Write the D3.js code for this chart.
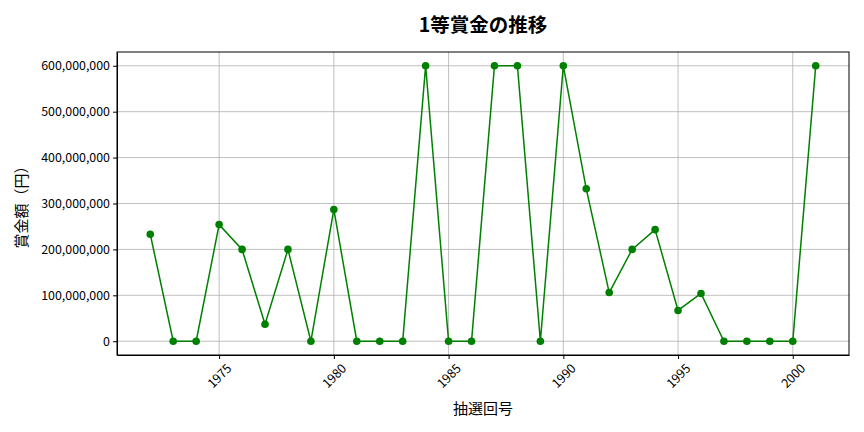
<!DOCTYPE html>
<html lang="ja">
<head>
<meta charset="UTF-8">
<title>1等賞金の推移</title>
<script src="https://d3js.org/d3.v7.min.js"></script>
<style>
  body { margin: 0; background: #fff; font-family: 'Noto Sans CJK JP', sans-serif; }
  .grid line { stroke: #b0b0b0; stroke-width: 0.8; }
  .axis text { font-size: 12.4px; fill: #000; font-family: 'Noto Sans CJK JP', sans-serif; }
  .axis path, .axis line { stroke: #000; }
</style>
</head>
<body>
<div id="chart"></div>
<script>
// data
const years = [1972, 1973, 1974, 1975, 1976, 1977, 1978, 1979, 1980, 1981,
  1982, 1983, 1984, 1985, 1986, 1987, 1988, 1989, 1990, 1991,
  1992, 1993, 1994, 1995, 1996, 1997, 1998, 1999, 2000, 2001];
const prizes = [233000000, 0, 0, 254000000, 200000000, 37000000, 200000000, 0, 287000000, 0,
  0, 0, 600000000, 0, 0, 600000000, 600000000, 0, 600000000, 332000000,
  106000000, 200000000, 243000000, 67000000, 104000000, 0, 0, 0, 0, 600000000];
const xTicks = [1975, 1980, 1985, 1990, 1995, 2000];
const yTicks = [0, 100000000, 200000000, 300000000, 400000000, 500000000, 600000000];

const W = 864, H = 432;
const margin = { top: 52, right: 15, bottom: 77, left: 117 };
const w = W - margin.left - margin.right;
const h = H - margin.top - margin.bottom;

const svg = d3.select("#chart").append("svg")
  .attr("width", W).attr("height", H);

const g = svg.append("g")
  .attr("transform", `translate(${margin.left},${margin.top})`);

const x = d3.scaleLinear().domain([1970.55, 2002.45]).range([0, w]);
const y = d3.scaleLinear().domain([-30000000, 630000000]).range([h, 0]);

// grid
g.append("g").attr("class", "grid")
  .selectAll("line.v").data(xTicks).join("line")
  .attr("x1", d => x(d)).attr("x2", d => x(d))
  .attr("y1", 0).attr("y2", h);
g.append("g").attr("class", "grid")
  .selectAll("line.h").data(yTicks).join("line")
  .attr("x1", 0).attr("x2", w)
  .attr("y1", d => y(d)).attr("y2", d => y(d));

// axes
const xAxis = g.append("g").attr("class", "axis")
  .attr("transform", `translate(0,${h})`)
  .call(d3.axisBottom(x).tickValues(xTicks).tickFormat(d3.format("d")).tickSize(4).tickSizeOuter(0));
xAxis.selectAll("text")
  .attr("text-anchor", "middle")
  .attr("transform", "translate(0,21) rotate(-45)")
  .attr("y", 0).attr("dy", "0.35em");

g.append("g").attr("class", "axis")
  .call(d3.axisLeft(y).tickValues(yTicks).tickFormat(d3.format(",")).tickSize(4).tickSizeOuter(0));

// frame
g.append("rect").attr("width", w).attr("height", h)
  .attr("fill", "none").attr("stroke", "#000").attr("stroke-width", 1);

// line + points
const line = d3.line().x((d, i) => x(years[i])).y(d => y(d));
g.append("path").datum(prizes)
  .attr("d", line)
  .attr("fill", "none").attr("stroke", "green").attr("stroke-width", 1.5);

g.selectAll("circle").data(prizes).join("circle")
  .attr("cx", (d, i) => x(years[i]))
  .attr("cy", d => y(d))
  .attr("r", 3.8).attr("fill", "green");

// titles
svg.append("text")
  .attr("x", margin.left + w / 2).attr("y", 32)
  .attr("text-anchor", "middle")
  .style("font-size", "19.5px").style("font-weight", "bold")
  .text("1等賞金の推移");

svg.append("text")
  .attr("x", margin.left + w / 2).attr("y", 414)
  .attr("text-anchor", "middle")
  .style("font-size", "15px")
  .text("抽選回号");

svg.append("text")
  .attr("transform", `translate(22,${margin.top + h / 2}) rotate(-90)`)
  .attr("text-anchor", "middle")
  .attr("dy", "0.35em")
  .style("font-size", "15px")
  .text("賞金額（円）");
</script>
</body>
</html>
